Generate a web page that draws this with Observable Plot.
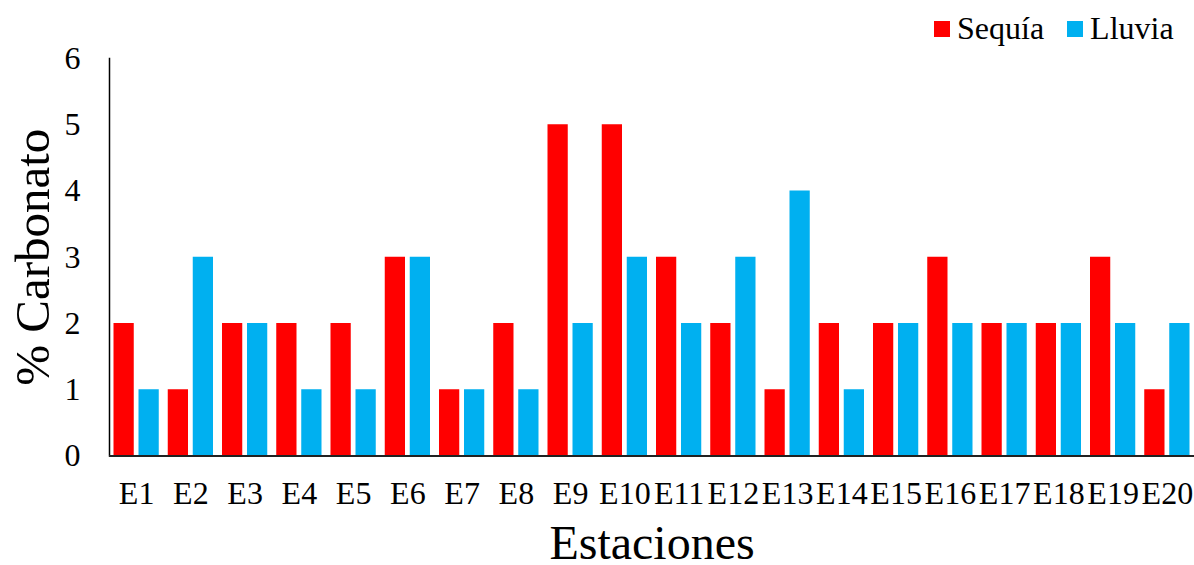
<!DOCTYPE html>
<html>
<head>
<meta charset="utf-8">
<script src="https://cdn.jsdelivr.net/npm/d3@7"></script>
<script src="https://cdn.jsdelivr.net/npm/@observablehq/plot@0.6"></script>
<style>
  html, body { margin: 0; padding: 0; background: #fff; }
  #wrap { position: relative; width: 1194px; height: 565px; font-family: 'Liberation Serif', 'Times New Roman', Tinos, serif; }
  #legend { position: absolute; left: 934px; top: 10px; display: flex; align-items: center; font-size: 32px; color: #000; }
  .item { display: flex; align-items: center; margin-right: 23px; }
  .sw { width: 16px; height: 16px; margin-right: 7px; }
  svg text { font-family: 'Liberation Serif', 'Times New Roman', Tinos, serif; }
</style>
</head>
<body>
<div id="wrap"><div id="legend"></div></div>
<script>
const stations = ["E1","E2","E3","E4","E5","E6","E7","E8","E9","E10","E11","E12","E13","E14","E15","E16","E17","E18","E19","E20"];
const sequia = [2,1,2,2,2,3,1,2,5,5,3,2,1,2,2,3,2,2,3,1];
const lluvia = [1,3,2,1,1,3,1,1,2,3,2,3,4,1,2,2,2,2,2,2];
const series = ["Sequía","Lluvia"];
const colors = ["#FF0000","#00B0F0"];
const yTicks = [0,1,2,3,4,5,6];

const dataS = stations.map((s,i) => ({station: s, value: sequia[i], serie: series[0]}));
const dataL = stations.map((s,i) => ({station: s, value: lluvia[i], serie: series[1]}));

const font = "'Liberation Serif', 'Times New Roman', Tinos, serif";

const chart = Plot.plot({
  width: 1194,
  height: 565,
  marginTop: 58,
  marginBottom: 109.5,
  marginLeft: 109,
  marginRight: 0,
  style: {fontFamily: font, fontSize: "32px", color: "#000", background: "#fff"},
  x: {domain: stations, padding: 0, round: false, label: null},
  y: {domain: [0, 6], label: null},
  color: {domain: series, range: colors},
  marks: [
    Plot.barY(dataS, {x: "station", y: "value", fill: "serie", insetLeft: 4.5, insetRight: 29.5}),
    Plot.barY(dataL, {x: "station", y: "value", fill: "serie", insetLeft: 29.5, insetRight: 4.5}),
    Plot.axisY({ticks: yTicks, tickSize: 0, tickPadding: 29, tickFormat: d => String(d), fontSize: 32, label: null}),
    Plot.axisX({tickSize: 0, tickPadding: 25, fontSize: 32, label: null}),
    Plot.frame({anchor: "left", stroke: "#000", strokeWidth: 1.5}),
    Plot.ruleY([0], {stroke: "#222", strokeWidth: 2}),
    Plot.text(["% Carbonato"], {frameAnchor: "left", textAnchor: "middle", lineAnchor: "middle", dx: -76, rotate: -90, fontSize: 49, fill: "#000"}),
    Plot.text(["Estaciones"], {frameAnchor: "bottom", lineAnchor: "bottom", dy: 103, fontSize: 48, fill: "#000"})
  ]
});
const wrap = document.getElementById("wrap");
wrap.insertBefore(chart, wrap.firstChild);

const legend = document.getElementById("legend");
series.forEach((s, i) => {
  const item = document.createElement("div");
  item.className = "item";
  const sw = document.createElement("div");
  sw.className = "sw";
  sw.style.background = colors[i];
  const t = document.createElement("span");
  t.textContent = s;
  item.appendChild(sw);
  item.appendChild(t);
  legend.appendChild(item);
});
</script>
</body>
</html>
